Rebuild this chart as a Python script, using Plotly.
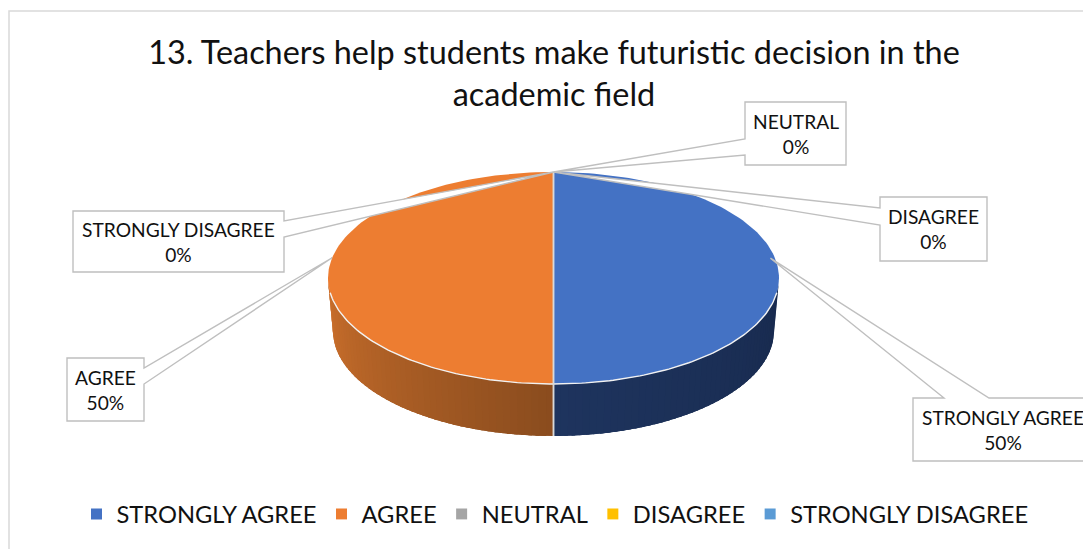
import math
import plotly.graph_objects as go

categories = ["STRONGLY AGREE", "AGREE", "NEUTRAL", "DISAGREE", "STRONGLY DISAGREE"]
percent_values = [50, 50, 0, 0, 0]
slice_colors = ["#4472C4", "#ED7D31", "#A5A5A5", "#FFC000", "#5B9BD5"]
title_text = "13. Teachers help students make futuristic decision in the<br>academic field"

W, H = 1083, 549
FONT = "Lato"
CX, CY, RX, RY = 553.5, 278.0, 225.5, 106.0
BCY, BRX, BRY = 331.0, 220.5, 105.0

# wall shading per slice: colour at the slice's outer end -> colour at the front centre
wall_shades = {
    "STRONGLY AGREE": ((24, 42, 78), (30, 52, 94)),
    "AGREE": ((204, 112, 44), (138, 76, 30)),
}
# callouts: box (left, top, right, bottom), edge the wedge leaves from, wedge base in
# clockwise outline order, lift of the tip along the rim (degrees) and its radial reach
callouts = {
    "NEUTRAL": dict(box=(745, 102, 846, 165), edge="left", base=[(745, 155), (745, 139)], lift=0, reach=1),
    "DISAGREE": dict(box=(880, 197, 987, 261), edge="left", base=[(880, 225), (880, 208)], lift=0, reach=1),
    "STRONGLY DISAGREE": dict(box=(73, 211, 284, 272), edge="right", base=[(284, 221), (284, 237)], lift=0, reach=1),
    "AGREE": dict(box=(67, 358, 144, 421), edge="right", base=[(144, 368), (144, 384)], lift=11, reach=1),
    "STRONGLY AGREE": dict(box=(913, 398, 1093, 461), edge="top", base=[(944, 398), (989, 398)], lift=-11, reach=0.98),
}

def top(t, reach=1.0):
    return CX + reach * RX * math.sin(t), CY - reach * RY * math.cos(t)

def bot(t):
    return CX + BRX * math.sin(t), BCY - BRY * math.cos(t)

total = sum(percent_values)
fig = go.Figure()
bounds = {}
angle = 0.0
for name, value in zip(categories, percent_values):
    bounds[name] = (angle, angle + 2 * math.pi * value / total)
    angle = bounds[name][1]

# side wall
for name, color in zip(categories, slice_colors):
    a0, a1 = bounds[name]
    v0, v1 = max(a0, math.pi / 2), min(a1, 3 * math.pi / 2)
    if v1 <= v0 or name not in wall_shades:
        continue
    c_outer, c_inner = wall_shades[name]
    n = 48
    for i in range(n):
        s0 = v0 + (v1 - v0) * i / n
        s1 = min(v0 + (v1 - v0) * (i + 2.5) / n, v1)
        dist = abs(v0 + (v1 - v0) * (i + 0.5) / n - math.pi) / (math.pi / 2)
        col = tuple(round(c_inner[k] + (c_outer[k] - c_inner[k]) * dist) for k in range(3))
        steps = [s0 + (s1 - s0) * j / 4 for j in range(5)]
        pts = [top(s) for s in steps] + [bot(s) for s in reversed(steps)]
        pts.append(pts[0])
        fig.add_trace(go.Scatter(x=[p[0] for p in pts], y=[p[1] for p in pts], mode="lines",
                                 fill="toself", fillcolor=f"rgb{col}", line=dict(width=0),
                                 showlegend=False, hoverinfo="skip"))

# top faces
for name, color in zip(categories, slice_colors):
    a0, a1 = bounds[name]
    if a1 <= a0:
        continue
    n = 120
    pts = [(CX, CY)] + [top(a0 + (a1 - a0) * i / n) for i in range(n + 1)] + [(CX, CY)]
    fig.add_trace(go.Scatter(x=[p[0] for p in pts], y=[p[1] for p in pts], mode="lines",
                             fill="toself", fillcolor=color, line=dict(width=0),
                             showlegend=False, hoverinfo="skip"))

# light rim along the front edge and slice seams
n = 160
rim = [top(math.pi / 2 + math.radians(8) + (math.pi - math.radians(16)) * i / n) for i in range(n + 1)]
fig.add_trace(go.Scatter(x=[p[0] for p in rim], y=[p[1] for p in rim], mode="lines",
                         line=dict(color="#f2f2f2", width=1.4), showlegend=False, hoverinfo="skip"))
for name in categories:
    a0, a1 = bounds[name]
    if a1 <= a0:
        continue
    for a in (a0, a1):
        p = top(a)
        xs = [CX, p[0]]
        ys = [CY, p[1]]
        if math.pi / 2 < a < 3 * math.pi / 2:
            q = bot(a)
            xs.append(q[0])
            ys.append(q[1])
        fig.add_trace(go.Scatter(x=xs, y=ys, mode="lines", line=dict(color="#d9d9d9", width=1.5),
                                 showlegend=False, hoverinfo="skip"))

# legend entries
for name, color in zip(categories, slice_colors):
    fig.add_trace(go.Scatter(x=[None], y=[None], mode="markers", name=name,
                             marker=dict(symbol="square", size=11, color=color)))

shapes = [dict(type="rect", xref="x", yref="y", x0=9, y0=11, x1=W + 20, y1=H + 20,
               line=dict(color="#d9d9d9", width=1.5), fillcolor="rgba(0,0,0,0)", layer="below")]
annotations = []
for name, value in zip(categories, percent_values):
    c = callouts[name]
    a0, a1 = bounds[name]
    tip = top((a0 + a1) / 2 + math.radians(c["lift"]), c["reach"])
    l, t_, r, b = c["box"]
    wedge = [c["base"][0], tip, c["base"][1]]
    outline = [(l, t_)]
    if c["edge"] == "top":
        outline += wedge
    outline.append((r, t_))
    if c["edge"] == "right":
        outline += wedge
    outline += [(r, b), (l, b)]
    if c["edge"] == "left":
        outline += wedge
    path = "M " + " L ".join(f"{x},{y}" for x, y in outline) + " Z"
    shapes.append(dict(type="path", xref="x", yref="y", path=path,
                       fillcolor="white", line=dict(color="#bfbfbf", width=1.4)))
    annotations.append(dict(x=(l + r) / 2, y=(t_ + b) / 2, xref="x", yref="y", showarrow=False,
                            text=f"{name}<br>{value}%", align="center",
                            font=dict(family=FONT, size=19.2, color="#111111")))

fig.update_layout(
    width=W, height=H, margin=dict(l=0, r=0, t=0, b=0), paper_bgcolor="white", plot_bgcolor="white",
    xaxis=dict(range=[0, W], visible=False, fixedrange=True),
    yaxis=dict(range=[H, 0], visible=False, fixedrange=True),
    title=dict(text=title_text, x=554 / W, xanchor="center", y=1 - 64 / H, yanchor="middle",
               font=dict(family=FONT, size=32.4, color="#111111")),
    legend=dict(orientation="h", x=555 / W, xanchor="center", y=1 - 514 / H, yanchor="middle",
                font=dict(family=FONT, size=23.7, color="#111111"), bgcolor="rgba(0,0,0,0)"),
    shapes=shapes, annotations=annotations, showlegend=True,
)
fig.write_html("out.html", post_script="document.body.style.margin='0';",
               config={"displayModeBar": False})
